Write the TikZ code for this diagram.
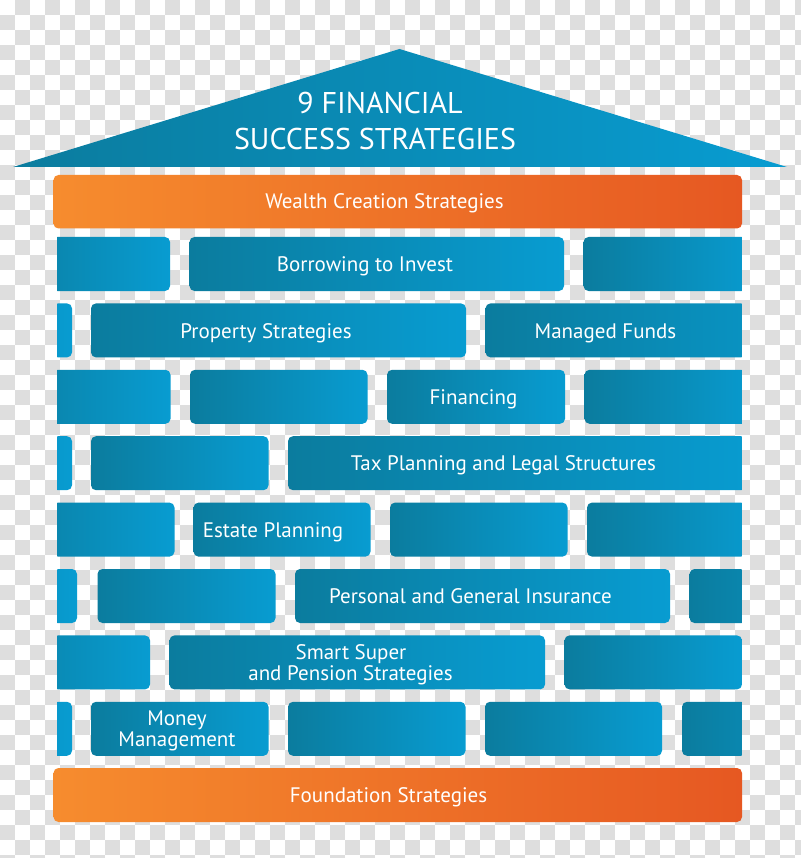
\documentclass[tikz,border=0pt]{standalone}
\usepackage{fontspec}
\setmainfont{PT Sans}
\begin{document}
\begin{tikzpicture}[x=1pt,y=-1pt,
  lbl/.style={text=white,anchor=base,inner sep=0pt,font=\fontsize{21}{21}\selectfont},
  ttl/.style={text=white,anchor=base,inner sep=0pt,font=\fontsize{30}{30}\selectfont},
  brick/.style={left color=brickdark,right color=bricklight,rounded corners=5pt},
  plank/.style={left color=orangelight,right color=orangedark,rounded corners=5pt}]
\definecolor{checkgray}{RGB}{222,222,222}
\definecolor{brickdark}{RGB}{11,124,158}
\definecolor{bricklight}{RGB}{8,156,209}
\definecolor{orangelight}{RGB}{246,140,46}
\definecolor{orangedark}{RGB}{230,88,34}
% background
\fill[white] (0,0) rectangle (800,858);
\useasboundingbox (0,0) rectangle (800,858);
\foreach \i in {0,...,53}{
  \foreach \j in {0,...,57}{
    \pgfmathtruncatemacro{\chk}{mod(\i+\j,2)}
    \ifnum\chk=1 \fill[checkgray] (\i*15,\j*15) rectangle ++(15,15);\fi
  }}
% roof
\shade[left color=brickdark,right color=bricklight] (13,167) -- (399.5,49) -- (787,167) -- cycle;
% planks
\shade[plank] (53.5,175) rectangle (742,228.5);
\shade[plank] (53.5,768) rectangle (742,822);
% wall bricks
\begin{scope}
\clip (57.3,0) rectangle (741.5,858);
% row 1
\shade[brick] (-7,237) rectangle (170,291);
\shade[brick] (189.5,237) rectangle (564,291);
\shade[brick] (583.5,237) rectangle (761,291);
% row 2
\shade[brick] (-106,303.4) rectangle (72,357.4);
\shade[brick] (91,303.4) rectangle (466,357.4);
\shade[brick] (485.5,303.4) rectangle (861,357.4);
% row 3
\shade[brick] (-7,369.8) rectangle (170.5,423.8);
\shade[brick] (190,369.8) rectangle (367.5,423.8);
\shade[brick] (387,369.8) rectangle (565,423.8);
\shade[brick] (584.5,369.8) rectangle (762,423.8);
% row 4
\shade[brick] (-106,436.2) rectangle (72,490.2);
\shade[brick] (91,436.2) rectangle (268.5,490.2);
\shade[brick] (288,436.2) rectangle (760,490.2);
% row 5
\shade[brick] (-3,502.6) rectangle (174.5,556.6);
\shade[brick] (193.5,502.6) rectangle (370.5,556.6);
\shade[brick] (390,502.6) rectangle (567.5,556.6);
\shade[brick] (587,502.6) rectangle (764,556.6);
% row 6
\shade[brick] (-100,569) rectangle (77,623);
\shade[brick] (97.5,569) rectangle (275.5,623);
\shade[brick] (295,569) rectangle (670,623);
\shade[brick] (689.5,569) rectangle (867,623);
% row 7
\shade[brick] (-27,635.4) rectangle (150,689.4);
\shade[brick] (169.5,635.4) rectangle (545,689.4);
\shade[brick] (564.5,635.4) rectangle (742,689.4);
% row 8
\shade[brick] (-106,701.8) rectangle (72,755.8);
\shade[brick] (91,701.8) rectangle (268.5,755.8);
\shade[brick] (288,701.8) rectangle (465.5,755.8);
\shade[brick] (485,701.8) rectangle (662,755.8);
\shade[brick] (682,701.8) rectangle (859.5,755.8);
\end{scope}
% texts
\node[ttl] (t1) at (380,114) {9 FINANCIAL};
\node[ttl] (t2) at (375,150) {SUCCESS STRATEGIES};
\node[lbl] (wealth) at (384.5,209) {Wealth Creation Strategies};
\node[lbl] (borrow) at (365,271.5) {Borrowing to Invest};
\node[lbl] (prop) at (266,338) {Property Strategies};
\node[lbl] (managed) at (605.5,338) {Managed Funds};
\node[lbl] (fin) at (473.5,404.3) {Financing};
\node[lbl] (tax) at (503.5,470.7) {Tax Planning and Legal Structures};
\node[lbl] (estate) at (273,537.1) {Estate Planning};
\node[lbl] (pers) at (470.5,603.5) {Personal and General Insurance};
\node[lbl] (smart1) at (351,659.4) {Smart Super};
\node[lbl] (smart2) at (350.5,680.4) {and Pension Strategies};
\node[lbl] (money1) at (177,725.8) {Money};
\node[lbl] (money2) at (177,746.8) {Management};
\node[lbl] (found) at (388.5,802.5) {Foundation Strategies};
\end{tikzpicture}
\end{document}
